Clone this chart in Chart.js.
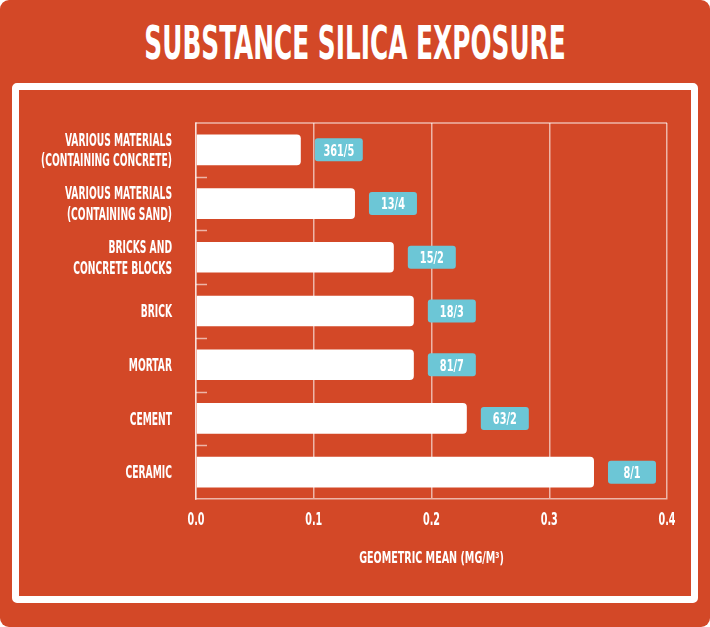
<!DOCTYPE html>
<html>
<head>
<meta charset="utf-8">
<script src="https://cdn.jsdelivr.net/npm/chart.js@4.4.0/dist/chart.umd.min.js"></script>
<style>
  body { margin: 0; background: #fff; }
  #card {
    position: relative; width: 710px; height: 627px;
    background: #D34827; border-radius: 9px; overflow: hidden;
  }
  #title {
    position: absolute; left: 0; top: 20px; width: 710px;
    text-align: center; color: #fff; white-space: nowrap;
    font: bold 46px/46px 'Liberation Sans Narrow', 'DejaVu Sans Condensed', sans-serif;
    transform: scaleX(0.6); transform-origin: 355px 0;
  }
  #frame {
    position: absolute; left: 12px; top: 83px; width: 686px; height: 520px;
    box-sizing: border-box; border: 7px solid #fff; border-radius: 5px;
  }
  #myChart { position: absolute; left: 0; top: 0; }
</style>
</head>
<body>
<div id="card">
  <div id="title">SUBSTANCE SILICA EXPOSURE</div>
  <div id="frame"></div>
  <canvas id="myChart" width="710" height="627"></canvas>
</div>
<script>
const categories = [
    ['VARIOUS MATERIALS', '(CONTAINING CONCRETE)'],
    ['VARIOUS MATERIALS', '(CONTAINING SAND)'],
    ['BRICKS AND', 'CONCRETE BLOCKS'],
    'BRICK',
    'MORTAR',
    'CEMENT',
    'CERAMIC'
];
const geoMean = [0.089, 0.135, 0.168, 0.185, 0.185, 0.23, 0.338];
const sampleLabels = ['361/5', '13/4', '15/2', '18/3', '81/7', '63/2', '8/1'];
const xTicks = [0, 0.1, 0.2, 0.3, 0.4];
const xTitle = 'GEOMETRIC MEAN (MG/M³)';

const fontFam = "'Liberation Sans Narrow', 'DejaVu Sans Condensed', sans-serif";
const lineCol = 'rgba(255,255,255,0.6)';

// no narrow display font here, so squeeze the text sideways
function squeezeText(c, text, x, yMid, size, sx, align) {
    c.save();
    c.font = 'bold ' + size + 'px ' + fontFam;
    c.fillStyle = '#fff';
    c.textAlign = align;
    c.textBaseline = 'alphabetic';
    c.translate(x, yMid + size * 0.365);
    c.scale(sx, 1);
    c.fillText(text, 0, 0);
    c.restore();
}

const extras = {
    id: 'extras',
    beforeDatasetsDraw(chart) {
        const c = chart.ctx, a = chart.chartArea, y = chart.scales.y;
        c.save();
        c.strokeStyle = lineCol;
        c.lineWidth = 1.5;
        c.beginPath();
        c.moveTo(a.left, a.top);
        c.lineTo(a.right, a.top);
        for (let i = 0; i < categories.length - 1; i++) {
            const py = Math.round(y.getPixelForValue(i + 0.5)) + 0.5;
            c.moveTo(a.left, py);
            c.lineTo(a.left + 11, py);
        }
        c.stroke();
        c.restore();
    },
    afterDraw(chart) {
        const c = chart.ctx, a = chart.chartArea;
        const x = chart.scales.x, y = chart.scales.y;

        // category labels
        categories.forEach((lab, i) => {
            const py = y.getPixelForValue(i);
            const lines = Array.isArray(lab) ? lab : [lab];
            lines.forEach((t, j) => {
                const off = (j - (lines.length - 1) / 2) * 20.6;
                squeezeText(c, t, a.left - 24, py + off, 17, 0.6, 'right');
            });
        });

        // x tick labels and axis title
        xTicks.forEach(v => {
            squeezeText(c, v.toFixed(1), x.getPixelForValue(v), 519, 17, 0.63, 'center');
        });
        squeezeText(c, xTitle, (a.left + a.right) / 2, 558, 15, 0.71, 'center');

        // blue sample boxes
        const bars = chart.getDatasetMeta(0).data;
        bars.forEach((b, i) => {
            const bx = b.x + 14, w = 48, h = 23;
            c.save();
            c.fillStyle = '#6CC6D6';
            c.beginPath();
            c.roundRect(bx, b.y - h / 2, w, h, 3);
            c.fill();
            c.restore();
            squeezeText(c, sampleLabels[i], bx + w / 2, b.y, 16, 0.68, 'center');
        });
    }
};

new Chart(document.getElementById('myChart'), {
    type: 'bar',
    data: {
        labels: categories,
        datasets: [{
            data: geoMean,
            backgroundColor: '#fff',
            borderRadius: 4,
            barPercentage: 0.57,
            categoryPercentage: 1
        }]
    },
    options: {
        indexAxis: 'y',
        responsive: false,
        animation: false,
        layout: { padding: { top: 123, right: 43, left: 20, bottom: 0 } },
        plugins: { legend: { display: false }, tooltip: { enabled: false } },
        scales: {
            x: {
                min: 0,
                max: 0.4,
                afterBuildTicks(scale) {
                    scale.ticks = xTicks.map(v => ({ value: v }));
                },
                afterFit(scale) { scale.height = 128; },
                grid: { color: lineCol, lineWidth: 1.5, drawTicks: false },
                border: { color: lineCol, width: 1.5 },
                ticks: { display: false }
            },
            y: {
                afterFit(scale) { scale.width = 176; },
                grid: { display: false },
                border: { color: lineCol, width: 1.5 },
                ticks: { display: false }
            }
        }
    },
    plugins: [extras]
});
</script>
</body>
</html>
